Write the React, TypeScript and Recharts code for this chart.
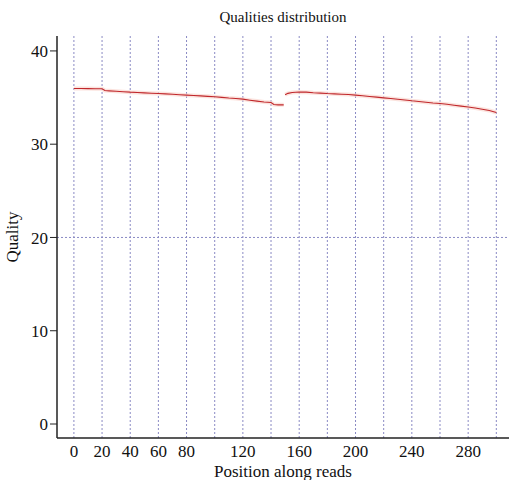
import React from 'react';
import { LineChart, Line, XAxis, YAxis, ReferenceLine } from 'recharts';

const seg1X = [0, 5, 10, 15, 20, 22, 25, 30, 35, 40, 45, 50, 55, 60, 65, 70, 75, 80, 85, 90, 95, 100, 105, 110, 115, 120, 125, 130, 135, 140, 142, 145, 149];
const seg1Q = [35.97, 35.97, 35.96, 35.95, 35.94, 35.75, 35.72, 35.68, 35.63, 35.58, 35.55, 35.5, 35.46, 35.43, 35.4, 35.35, 35.3, 35.26, 35.22, 35.18, 35.13, 35.08, 35.02, 34.95, 34.9, 34.83, 34.72, 34.62, 34.52, 34.47, 34.25, 34.22, 34.22];
const seg2X = [150, 152, 155, 160, 165, 170, 175, 180, 185, 190, 195, 200, 205, 210, 215, 220, 225, 230, 235, 240, 245, 250, 255, 260, 265, 270, 275, 280, 285, 290, 295, 300];
const seg2Q = [35.3, 35.45, 35.55, 35.6, 35.58, 35.52, 35.48, 35.43, 35.4, 35.36, 35.32, 35.26, 35.2, 35.12, 35.05, 34.97, 34.9, 34.82, 34.74, 34.65, 34.58, 34.5, 34.42, 34.36, 34.28, 34.18, 34.08, 33.98, 33.88, 33.75, 33.62, 33.4];

const gridX = [0, 20, 40, 60, 80, 100, 120, 140, 160, 180, 200, 220, 240, 260, 280, 300];
const xLabels = [0, 20, 40, 60, 80, 120, 160, 200, 240, 280];
const yTicks = [0, 10, 20, 30, 40];
const gridY = [20];

const seg1 = seg1X.map((x, i) => ({ x, q: seg1Q[i] }));
const seg2 = seg2X.map((x, i) => ({ x, q: seg2Q[i] }));

const FONT = '"Liberation Serif", "DejaVu Serif", serif';
const GRID = '#8a8ac4';

export default function App() {
  return (
    <div style={{ position: 'absolute', left: 0, top: 0, width: 509, height: 480, background: '#fff', fontFamily: FONT }}>
      <div style={{ position: 'absolute', left: 57, width: 452, top: 9, textAlign: 'center', fontSize: 15, color: '#111' }}>
        Qualities distribution
      </div>
      <LineChart width={509} height={480} margin={{ top: 36, right: 0, bottom: 0, left: 0 }}>
        <XAxis
          type="number"
          dataKey="x"
          domain={[-12, 309]}
          ticks={gridX}
          allowDataOverflow
          tickFormatter={(v: number) => (xLabels.includes(v) ? String(v) : '')}
          tick={{ fill: '#111', fontSize: 17, fontFamily: FONT }}
          tickLine={false}
          tickSize={0}
          tickMargin={7}
          height={42}
          axisLine={{ stroke: '#222', strokeWidth: 1.5 }}
          label={{ value: 'Position along reads', position: 'insideBottom', offset: 3, fill: '#111', fontSize: 17, fontFamily: FONT }}
        />
        <XAxis xAxisId="top" orientation="top" type="number" domain={[-12, 309]} height={0} tick={false} tickLine={false} axisLine={{ stroke: '#222', strokeWidth: 1.5 }} />
        <YAxis
          type="number"
          domain={[-1.5, 41.6]}
          ticks={yTicks}
          allowDataOverflow
          width={57}
          tick={{ fill: '#111', fontSize: 17, fontFamily: FONT }}
          tickSize={7}
          tickMargin={2}
          tickLine={{ stroke: '#222' }}
          axisLine={{ stroke: '#222', strokeWidth: 1.5 }}
          label={{ value: 'Quality', angle: -90, position: 'insideLeft', offset: 12, fill: '#111', fontSize: 17, fontFamily: FONT, style: { textAnchor: 'middle' } }}
        />
        {gridX.map((g) => (
          <ReferenceLine key={'gx' + g} x={g} stroke={GRID} strokeDasharray="2 2" strokeWidth={1} />
        ))}
        {gridY.map((g) => (
          <ReferenceLine key={'gy' + g} y={g} stroke={GRID} strokeDasharray="2 2" strokeWidth={1} />
        ))}
        <Line data={seg1} dataKey="q" stroke="#f8d0c8" strokeWidth={4} strokeOpacity={0.6} dot={false} isAnimationActive={false} />
        <Line data={seg2} dataKey="q" stroke="#f8d0c8" strokeWidth={4} strokeOpacity={0.6} dot={false} isAnimationActive={false} />
        <Line data={seg1} dataKey="q" stroke="#c0282c" strokeWidth={1.1} dot={false} isAnimationActive={false} />
        <Line data={seg2} dataKey="q" stroke="#c0282c" strokeWidth={1.1} dot={false} isAnimationActive={false} />
      </LineChart>
    </div>
  );
}
